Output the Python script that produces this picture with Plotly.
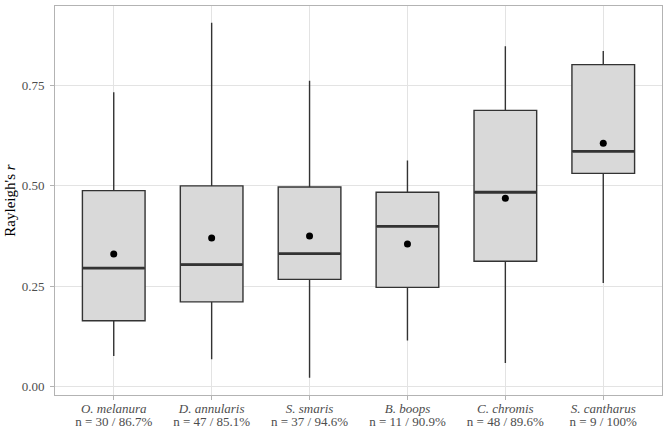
import plotly.graph_objects as go

species = ["O. melanura", "D. annularis", "S. smaris", "B. boops", "C. chromis", "S. cantharus"]
n_labels = ["n = 30 / 86.7%", "n = 47 / 85.1%", "n = 37 / 94.6%", "n = 11 / 90.9%", "n = 48 / 89.6%", "n = 9 / 100%"]
lower_whisker = [0.076, 0.068, 0.022, 0.115, 0.059, 0.258]
q1 = [0.164, 0.211, 0.267, 0.247, 0.312, 0.531]
median = [0.295, 0.304, 0.331, 0.399, 0.484, 0.586]
q3 = [0.488, 0.500, 0.497, 0.484, 0.688, 0.802]
upper_whisker = [0.733, 0.906, 0.762, 0.563, 0.848, 0.836]
means = [0.330, 0.370, 0.375, 0.355, 0.469, 0.606]

serif = "Liberation Serif"
box_w = 0.64

fig = go.Figure()
fig.add_trace(go.Box(
    x=species, q1=q1, median=median, q3=q3,
    lowerfence=lower_whisker, upperfence=upper_whisker,
    fillcolor="#D9D9D9", line=dict(color="#333333", width=1.4),
    whiskerwidth=0, width=box_w, boxpoints=False, showlegend=False,
    hoverinfo="skip",
))
# thicker median line (degenerate box at median)
fig.add_trace(go.Box(
    x=species, q1=median, median=median, q3=median,
    lowerfence=median, upperfence=median,
    fillcolor="rgba(0,0,0,0)", line=dict(color="#333333", width=2.8),
    whiskerwidth=0, width=box_w - 0.01, boxpoints=False, showlegend=False,
    hoverinfo="skip",
))
fig.add_trace(go.Scatter(
    x=species, y=means, mode="markers",
    marker=dict(color="black", size=7), showlegend=False, hoverinfo="skip",
))

ticktext = [f'<span style="font-size:13px"><i>{s}</i></span><br><span style="font-size:13px">{n}</span>'
            for s, n in zip(species, n_labels)]

fig.update_layout(
    width=668, height=434,
    margin=dict(l=55, r=6, t=6, b=39),
    paper_bgcolor="white", plot_bgcolor="white",
    font=dict(family=serif, color="#4D4D4D"),
    boxmode="overlay",
    xaxis=dict(
        type="category", categoryorder="array", categoryarray=species,
        range=[-0.6, 5.6], tickvals=species, ticktext=ticktext,
        tickfont=dict(size=10.5, color="#4D4D4D", family=serif),
        showgrid=True, gridcolor="#E3E3E3", gridwidth=1,
        ticks="outside", ticklen=4, tickcolor="#B3B3B3", tickwidth=1,
        showline=True, linecolor="#B3B3B3", mirror=True, linewidth=1,
        zeroline=False, automargin=False,
    ),
    yaxis=dict(
        range=[-0.021, 0.948],
        tickvals=[0, 0.25, 0.5, 0.75], ticktext=["0.00", "0.25", "0.50", "0.75"],
        tickfont=dict(size=13, color="#4D4D4D", family=serif),
        ticklabelstandoff=3,
        showgrid=True, gridcolor="#E3E3E3", gridwidth=1,
        ticks="outside", ticklen=4, tickcolor="#B3B3B3", tickwidth=1,
        showline=True, linecolor="#B3B3B3", mirror=True, linewidth=1,
        zeroline=False, automargin=False,
        title=dict(text="Rayleigh's <i>r</i>", font=dict(size=15, color="black", family=serif), standoff=2),
    ),
)

fig.write_html("out.html", config={"displayModeBar": False},
               post_script="document.body.style.margin='0';document.body.style.padding='0';")
